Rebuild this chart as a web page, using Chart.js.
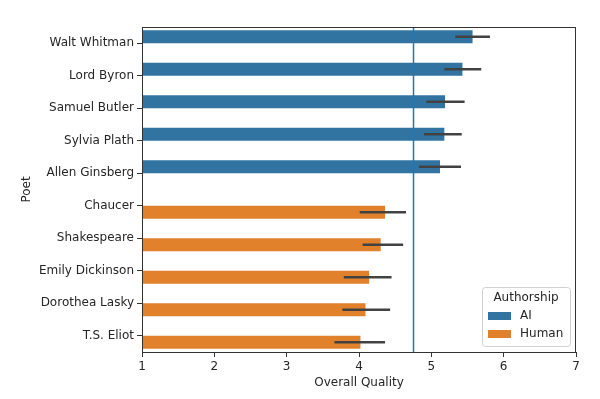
<!DOCTYPE html>
<html>
<head>
<meta charset="utf-8">
<script src="https://cdn.jsdelivr.net/npm/chart.js@4"></script>
<style>
  html, body { margin: 0; padding: 0; background: #fff; }
  #wrap { width: 600px; height: 399px; }
</style>
</head>
<body>
<div id="wrap"><canvas id="chart" width="600" height="399"></canvas></div>
<script>
// Data
const poets = ['Walt Whitman', 'Lord Byron', 'Samuel Butler', 'Sylvia Plath', 'Allen Ginsberg',
  'Chaucer', 'Shakespeare', 'Emily Dickinson', 'Dorothea Lasky', 'T.S. Eliot'];
const aiMeans = [5.57, 5.43, 5.19, 5.18, 5.12, null, null, null, null, null];
const aiLow = [5.33, 5.18, 4.93, 4.90, 4.83, null, null, null, null, null];
const aiHigh = [5.81, 5.69, 5.46, 5.42, 5.41, null, null, null, null, null];
const humanMeans = [null, null, null, null, null, 4.36, 4.30, 4.14, 4.09, 4.02];
const humanLow = [null, null, null, null, null, 4.01, 4.05, 3.79, 3.77, 3.66];
const humanHigh = [null, null, null, null, null, 4.65, 4.61, 4.45, 4.43, 4.36];
const xTicks = [1, 2, 3, 4, 5, 6, 7];
const refLine = 4.75;

const FONT = 'DejaVu Sans';
const TEXT = '#262626';
const AI_COLOR = '#3274a1';
const HUMAN_COLOR = '#e1812c';

// error bars, reference line, frame and legend
const extras = {
  id: 'extras',
  afterDatasetsDraw(chart) {
    const ctx = chart.ctx;
    const xs = chart.scales.x;
    const area = chart.chartArea;

    // reference line
    ctx.save();
    ctx.strokeStyle = '#1f77b4';
    ctx.lineWidth = 1.5;
    const lx = Math.round(xs.getPixelForValue(refLine)) + 0.5;
    ctx.beginPath();
    ctx.moveTo(lx, area.top);
    ctx.lineTo(lx, area.bottom);
    ctx.stroke();

    // error bars
    const errs = [[aiLow, aiHigh], [humanLow, humanHigh]];
    ctx.strokeStyle = '#424242';
    ctx.lineWidth = 2.7;
    errs.forEach(([lo, hi], di) => {
      const meta = chart.getDatasetMeta(di);
      meta.data.forEach((bar, i) => {
        if (lo[i] == null) return;
        ctx.beginPath();
        ctx.moveTo(xs.getPixelForValue(lo[i]), bar.y);
        ctx.lineTo(xs.getPixelForValue(hi[i]), bar.y);
        ctx.stroke();
      });
    });

    // frame
    ctx.strokeStyle = '#333';
    ctx.lineWidth = 1;
    ctx.strokeRect(area.left + 0.5, area.top + 0.5, area.right - area.left - 1, area.bottom - area.top);

    // legend
    const bx = 482, by = 287, bw = 88, bh = 59;
    ctx.fillStyle = 'rgba(255,255,255,0.8)';
    ctx.strokeStyle = '#d0d0d0';
    ctx.beginPath();
    ctx.roundRect(bx + 0.5, by + 0.5, bw, bh, 3);
    ctx.fill();
    ctx.stroke();
    ctx.fillStyle = TEXT;
    ctx.font = '12px "' + FONT + '"';
    ctx.textAlign = 'center';
    ctx.textBaseline = 'middle';
    ctx.fillText('Authorship', bx + bw / 2, by + 11);
    ctx.textAlign = 'left';
    [['AI', AI_COLOR], ['Human', HUMAN_COLOR]].forEach(([label, color], k) => {
      const yy = by + 29 + k * 18;
      ctx.fillStyle = color;
      ctx.fillRect(bx + 6, yy - 4, 23, 8);
      ctx.fillStyle = TEXT;
      ctx.fillText(label, bx + 38, yy);
    });
    ctx.restore();
  }
};

new Chart(document.getElementById('chart'), {
  type: 'bar',
  data: {
    labels: poets,
    datasets: [
      { label: 'AI', data: aiMeans, backgroundColor: AI_COLOR },
      { label: 'Human', data: humanMeans, backgroundColor: HUMAN_COLOR }
    ]
  },
  options: {
    indexAxis: 'y',
    responsive: false,
    animation: false,
    categoryPercentage: 0.8,
    barPercentage: 1.0,
    layout: { padding: { left: 20, right: 24, top: 27, bottom: 9 } },
    plugins: {
      legend: { display: false },
      tooltip: { enabled: false }
    },
    scales: {
      x: {
        type: 'linear',
        min: 1,
        max: 7,
        afterBuildTicks: (scale) => { scale.ticks = xTicks.map(v => ({ value: v })); },
        grid: { drawOnChartArea: false, tickLength: 5, color: '#333', tickColor: '#333' },
        border: { display: false },
        ticks: { color: TEXT, font: { family: FONT, size: 12 }, padding: 3, maxRotation: 0 },
        title: { display: true, text: 'Overall Quality', color: TEXT, font: { family: FONT, size: 12 }, padding: { top: 2, bottom: 0 } },
        afterFit: (scale) => { scale.height = 38; }
      },
      y: {
        grid: { drawOnChartArea: false, offset: false, tickLength: 5, color: '#333', tickColor: '#333' },
        border: { display: false },
        ticks: { color: TEXT, font: { family: FONT, size: 12 }, padding: 3 },
        title: { display: true, text: 'Poet', color: TEXT, font: { family: FONT, size: 12 }, padding: { top: 0, bottom: 0 } },
        afterFit: (scale) => { scale.width = 122; }
      }
    }
  },
  plugins: [extras]
});
</script>
</body>
</html>
